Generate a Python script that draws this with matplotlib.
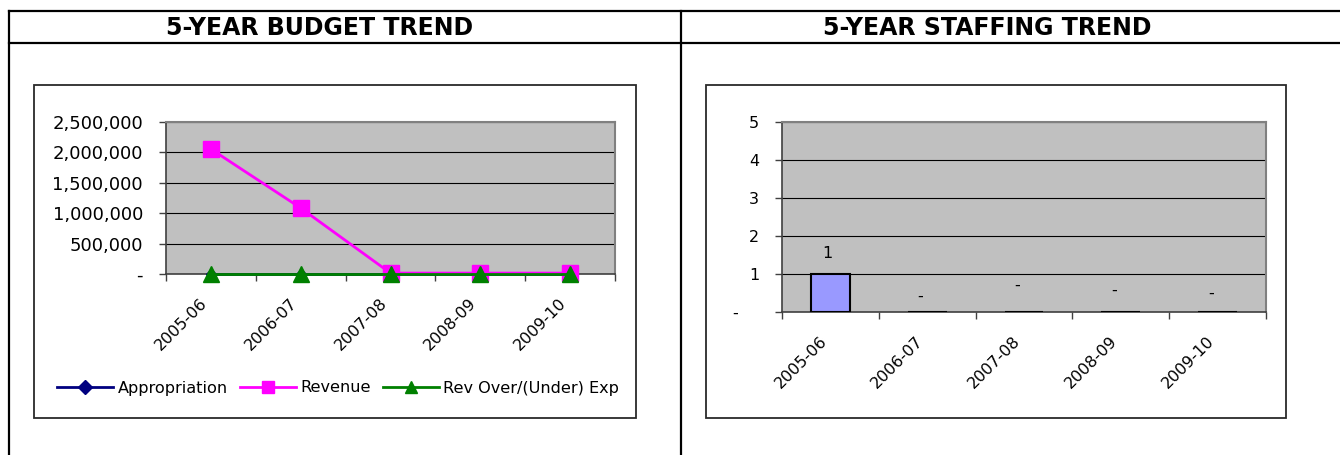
import numpy as np
import matplotlib.pyplot as plt
import matplotlib.transforms as mtransforms
from matplotlib.patches import Rectangle
from matplotlib.lines import Line2D

W, H = 1340, 455

years = ['2005-06', '2006-07', '2007-08', '2008-09', '2009-10']
appropriation = [0, 0, 0, 0, 0]
revenue = [2055000, 1085000, 15000, 15000, 15000]
rev_over_exp = [0, 0, 0, 0, 0]
budget_ticks = [0, 500000, 1000000, 1500000, 2000000, 2500000]

staff = [1, 0, 0, 0, 0]
staff_labels = ['1', '-', '-', '-', '-']
staff_ticks = [0, 1, 2, 3, 4, 5]

# where excel dropped the data labels (data units)
label_y = [1.55, 0.42, 0.71, 0.58, 0.50]

plt.rcParams['font.family'] = ['DejaVu Sans']

fig = plt.figure(figsize=(W / 100, H / 100), dpi=100)


def px(x0, y0, x1, y1):
    # pixel box (top-left origin) -> figure fraction rect
    return [x0 / W, 1 - y1 / H, (x1 - x0) / W, (y1 - y0) / H]


def hline(y, x0, x1, **kw):
    fig.add_artist(Line2D([x0 / W, x1 / W], [1 - y / H, 1 - y / H], transform=fig.transFigure, **kw))


def vline(x, y0, y1, **kw):
    fig.add_artist(Line2D([x / W, x / W], [1 - y0 / H, 1 - y1 / H], transform=fig.transFigure, **kw))


### table frame
hline(11, 9, W, color='black', lw=1.6)
hline(43, 9, W, color='black', lw=1.6)
vline(9, 11, H, color='black', lw=1.6)
vline(681, 11, H, color='black', lw=1.6)

fig.text(320 / W, 1 - 28 / H, '5-YEAR BUDGET TREND', ha='center', va='center',
         fontsize=17, fontweight='bold')
fig.text(987 / W, 1 - 28 / H, '5-YEAR STAFFING TREND', ha='center', va='center',
         fontsize=17, fontweight='bold')

### chart boxes
for b in (px(34, 85, 636, 418), px(706, 85, 1286, 418)):
    fig.add_artist(Rectangle((b[0], b[1]), b[2], b[3], transform=fig.transFigure,
                             fill=False, edgecolor='#2a2a2a', lw=1.3))


def style_axes(ax, ysize):
    ax.set_facecolor('#C0C0C0')
    ax.set_axisbelow(True)
    ax.grid(axis='y', color='black', lw=0.8)
    for s in ('top', 'right'):
        ax.spines[s].set_color('#808080')
        ax.spines[s].set_linewidth(1.5)
    for s in ('left', 'bottom'):
        ax.spines[s].set_color('#404040')
        ax.spines[s].set_linewidth(1.2)
    ax.set_xlim(-0.5, 4.5)
    ax.set_xticks(np.arange(len(years)))
    ax.set_xticklabels([])
    ax.set_xticks(np.arange(len(years) + 1) - 0.5, minor=True)
    ax.tick_params(axis='x', which='major', length=0)
    ax.tick_params(axis='x', which='minor', length=5, width=1, color='#404040')
    ax.tick_params(axis='y', length=5, width=1, color='#404040', pad=11.5, labelsize=ysize)


def rot_labels(ax, dx, dy):
    off = mtransforms.ScaledTranslation(dx / 100, -dy / 100, fig.dpi_scale_trans)
    for i, y in enumerate(years):
        ax.text(i, 0, y, transform=ax.get_xaxis_transform() + off, rotation=45,
                ha='right', va='center', rotation_mode='anchor', fontsize=11.5)


### budget chart
ax1 = fig.add_axes(px(166, 122, 615, 274))
style_axes(ax1, 13)
x = np.arange(len(years))
ax1.plot(x, appropriation, '-D', color='#000080', lw=2, ms=5, clip_on=False, zorder=3)
ax1.plot(x, revenue, '-s', color='#FF00FF', lw=2, ms=11.5, clip_on=False, zorder=4)
ax1.plot(x, rev_over_exp, '-^', color='#008000', lw=2, ms=11.5, clip_on=False, zorder=5)
ax1.set_ylim(0, 2500000)
ax1.set_yticks(budget_ticks)
ax1.set_yticklabels(['-' if v == 0 else f'{v:,}' for v in budget_ticks])
rot_labels(ax1, -6, 27)

handles = [Line2D([], [], color='#000080', lw=2, marker='D', ms=7),
           Line2D([], [], color='#FF00FF', lw=2, marker='s', ms=8),
           Line2D([], [], color='#008000', lw=2, marker='^', ms=8)]
ax1.legend(handles, ['Appropriation', 'Revenue', 'Rev Over/(Under) Exp'],
           loc='center', bbox_to_anchor=(338 / W, 1 - 388 / H), bbox_transform=fig.transFigure,
           ncol=3, frameon=False, fontsize=11.6, handlelength=3.5, handletextpad=0.25,
           columnspacing=0.75)

### staffing chart
ax2 = fig.add_axes(px(782, 122, 1266, 312))
style_axes(ax2, 11.5)
ax2.bar(x, staff, width=0.4, color='#9999FF', edgecolor='black', lw=1.5, zorder=3, clip_on=True)
ax2.set_ylim(0, 5)
ax2.set_yticks(staff_ticks)
ax2.set_yticklabels(['-    ' if v == 0 else str(v) for v in staff_ticks])
for i, (lab, ly) in enumerate(zip(staff_labels, label_y)):
    ax2.text(i - (0.03 if lab != '-' else 0.07), ly, lab, ha='center', va='center', fontsize=11.5)
rot_labels(ax2, -6, 27)

plt.savefig('out.png', dpi=100)
